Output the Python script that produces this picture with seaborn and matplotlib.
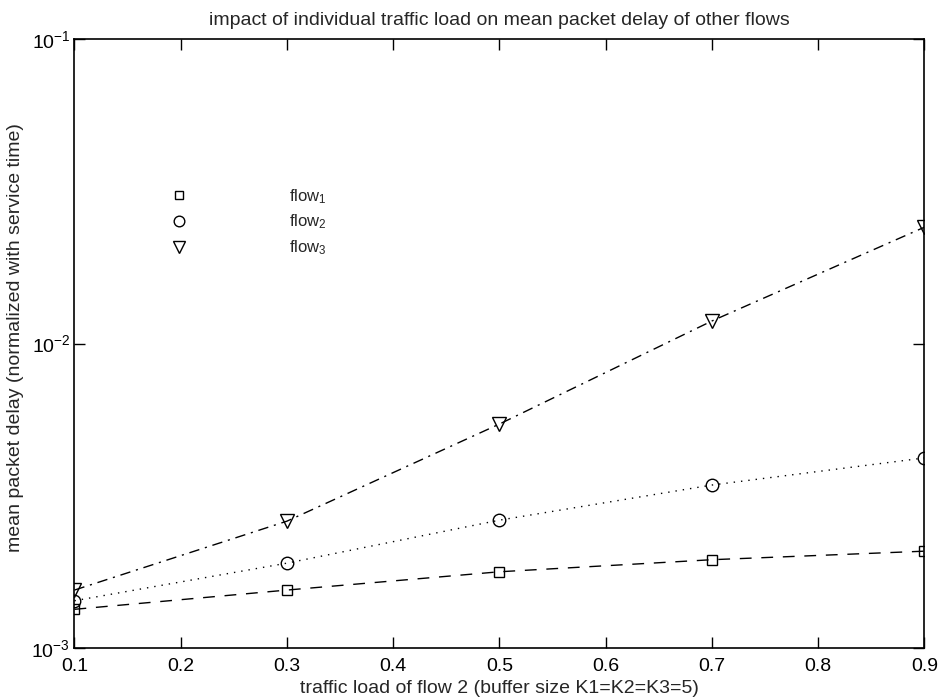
import matplotlib
matplotlib.use("Agg")
import matplotlib.pyplot as plt
import seaborn as sns
import pandas as pd
from matplotlib.lines import Line2D
from matplotlib.ticker import NullLocator, FixedLocator

load = [0.1, 0.3, 0.5, 0.7, 0.9]
flow1 = [1.34e-3, 1.55e-3, 1.78e-3, 1.95e-3, 2.08e-3]
flow2 = [1.43e-3, 1.90e-3, 2.63e-3, 3.43e-3, 4.21e-3]
flow3 = [1.55e-3, 2.61e-3, 5.44e-3, 1.186e-2, 2.41e-2]
series_names = ["flow1", "flow2", "flow3"]
legend_labels = ["flow$_1$", "flow$_2$", "flow$_3$"]
x_ticks = [0.1, 0.2, 0.3, 0.4, 0.5, 0.6, 0.7, 0.8, 0.9]
x_tick_labels = ["0.1", "0.2", "0.3", "0.4", "0.5", "0.6", "0.7", "0.8", "0.9"]

sns.set_theme(style="ticks")
plt.rcParams["font.family"] = ["Liberation Sans", "DejaVu Sans"]
plt.rcParams["mathtext.fontset"] = "custom"
plt.rcParams["mathtext.rm"] = "Liberation Sans"
plt.rcParams["mathtext.it"] = "Liberation Sans"
plt.rcParams["mathtext.default"] = "regular"

df = pd.concat([
    pd.DataFrame({"load": load, "delay": vals, "flow": name})
    for name, vals in zip(series_names, [flow1, flow2, flow3])
])

fig = plt.figure(figsize=(9.39, 6.98), dpi=100)
ax = fig.add_axes([0.0793, 0.0716, 0.9052, 0.8725])

markers = {"flow1": "s", "flow2": "o", "flow3": "v"}
dashes = {"flow1": (8.5, 7), "flow2": (1, 4.3), "flow3": (7.5, 4.2, 1.5, 4.2)}
msizes = {"flow1": 6.5, "flow2": 9, "flow3": 10}

for name in series_names:
    sub = df[df["flow"] == name]
    sns.lineplot(data=sub, x="load", y="delay", ax=ax, color="black",
                 linewidth=1.0, dashes={name: dashes[name]}, style="flow",
                 markers={name: markers[name]}, legend=False,
                 markerfacecolor="none", markeredgecolor="black",
                 markeredgewidth=1.0, markersize=msizes[name])

ax.set_yscale("log")
ax.set_xlim(0.1, 0.9)
ax.set_ylim(1e-3, 1e-1)
ax.xaxis.set_major_locator(FixedLocator(x_ticks))
ax.set_xticklabels(x_tick_labels)
ax.yaxis.set_major_locator(FixedLocator([1e-3, 1e-2, 1e-1]))
ax.yaxis.set_minor_locator(NullLocator())
ax.tick_params(direction="in", length=8, width=1.0, top=True, right=True,
               labelsize=14, colors="black")
ax.tick_params(axis="x", pad=7)
ax.tick_params(axis="y", pad=3)
for sp in ax.spines.values():
    sp.set_linewidth(1.2)
    sp.set_color("black")

ax.set_xlabel("traffic load of flow 2 (buffer size K1=K2=K3=5)", fontsize=14)
ax.set_ylabel("mean packet delay (normalized with service time)", fontsize=14)
ax.xaxis.set_label_coords(0.5, -0.0525)
ax.yaxis.set_label_coords(-0.059, 0.51)
ax.set_title("impact of individual traffic load on mean packet delay of other flows",
             fontsize=14, pad=10)

handles = [Line2D([], [], linestyle="none", marker=markers[n], markersize=msizes[n] * 0.85,
                  markerfacecolor="none", markeredgecolor="black") for n in series_names]
ax.legend(handles, legend_labels, loc="upper left", bbox_to_anchor=(0.096, 0.7816),
          frameon=False, handletextpad=6.05, fontsize=12, labelspacing=0.42,
          handlelength=1.0)

fig.savefig("out.png", dpi=100, facecolor="white")
